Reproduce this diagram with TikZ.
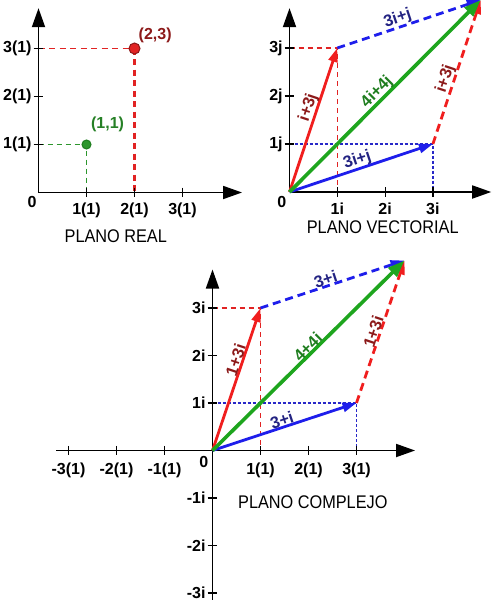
\documentclass[tikz,border=0pt]{standalone}
\usepackage{fontspec}
\setmainfont{Liberation Sans}
\usetikzlibrary{arrows.meta}
\definecolor{vred}{RGB}{240,30,30}
\definecolor{dred}{RGB}{140,25,25}
\definecolor{vblue}{RGB}{30,30,235}
\definecolor{mblue}{RGB}{40,40,200}
\definecolor{dblue}{RGB}{35,35,130}
\definecolor{vgreen}{RGB}{30,165,30}
\definecolor{dgreen}{RGB}{30,125,30}
\definecolor{pred}{RGB}{225,35,35}
\definecolor{pgreen}{RGB}{45,150,45}
\tikzset{
  axisline/.style={line width=1.8pt, -{Triangle[length=19pt,width=13pt]}},
  tickmark/.style={line width=1.2pt},
  ticklab/.style={font=\bfseries\fontsize{16}{16}\selectfont, inner sep=0pt},
  titlelab/.style={font=\fontsize{18.3}{18}\selectfont, inner sep=0pt, xscale=0.89},
  ptlab/.style={font=\bfseries\fontsize{16}{16}\selectfont, inner sep=0pt},
  veclab/.style={font=\bfseries\fontsize{16.5}{16}\selectfont, inner sep=0.6pt, anchor=south},
  vecarrow/.style={line width=2.8pt, -{Triangle[length=14pt,width=9pt]}},
  bigvec/.style={line width=3.6pt, -{Triangle[length=17pt,width=12pt]}},
  thickdash/.style={line width=2.8pt, dash pattern=on 8pt off 5pt, -{Triangle[length=14pt,width=9pt]}},
  thindash/.style={line width=1.3pt, dash pattern=on 5pt off 4pt},
  dotline/.style={line width=1.2pt, dash pattern=on 3pt off 2pt},
}
\begin{document}
\begin{tikzpicture}[x=1pt,y=-1pt]
\useasboundingbox (0,0) rectangle (491,600);

%% ---------------- PLANO REAL ----------------
\begin{scope}[shift={(38.5,192.5)}, x=48pt, y=48pt]
  \coordinate (o1) at (0,0);
  \coordinate (x1e) at (4.24,0);
  \coordinate (y1e) at (0,3.84);
  \coordinate (p11) at (1,1);
  \coordinate (p23) at (2,3);
  \coordinate (p11x) at (1,0);
  \coordinate (p11y) at (0,1);
  \coordinate (p23x) at (2,0);
  \coordinate (p23y) at (0,3);
  \draw[pred, line width=1.6pt, dash pattern=on 6pt off 4.5pt] (p23y) -- (p23);
  \draw[pred, line width=2.6pt, dash pattern=on 6pt off 4.5pt] (p23) -- (p23x);
  \draw[pgreen, thindash] (p11y) -- (p11) -- (p11x);
  \draw[axisline] (o1) -- (x1e);
  \draw[axisline] (o1) -- (y1e);
  \foreach \k in {1,2,3} {
    \draw[tickmark] (\k,0.1) -- (\k,-0.1);
    \draw[tickmark] (-0.1,\k) -- (0.1,\k);
    \node[ticklab] (rx\k) at (\k,-0.37) {\k(1)};
    \node[ticklab, anchor=east] (ry\k) at (-0.14,\k) {\k(1)};
  }
  \node[ticklab] (r0) at (-0.135,-0.2) {0};
  \fill[pred, draw=dred, line width=1pt] (p23) circle[radius=5.5pt];
  \fill[pgreen, draw=dgreen, line width=1pt] (p11) circle[radius=4.5pt];
  \node[ptlab, text=dred] (l23) at (2.43,3.28) {(2,3)};
  \node[ptlab, text=pgreen!85!black] (l11) at (1.44,1.41) {(1,1)};
  \node[titlelab] (t1) at (1.61,-0.92) {PLANO REAL};
\end{scope}

%% ---------------- PLANO VECTORIAL ----------------
\begin{scope}[shift={(289.5,192)}, x=47.8pt, y=48pt]
  \coordinate (o2) at (0,0);
  \coordinate (x2e) at (4.22,0);
  \coordinate (y2e) at (0,3.83);
  \coordinate (a2) at (1,3);
  \coordinate (b2) at (3,1);
  \coordinate (c2) at (4,4);
  \coordinate (a2x) at (1,0);
  \coordinate (a2y) at (0,3);
  \coordinate (b2x) at (3,0);
  \coordinate (b2y) at (0,1);
  \draw[pred, thindash] (a2y) -- (a2) -- (a2x);
  \draw[mblue, dotline] (b2y) -- (b2) -- (b2x);
  \draw[axisline] (o2) -- (x2e);
  \draw[axisline] (o2) -- (y2e);
  \foreach \k in {1,2,3} {
    \draw[tickmark] (\k,0.1) -- (\k,-0.1);
    \draw[tickmark] (-0.1,\k) -- (0.1,\k);
    \node[ticklab] (vx\k) at (\k,-0.34) {\k i};
    \node[ticklab, anchor=east] (vy\k) at (-0.14,\k) {\k j};
  }
  \node[ticklab] (v0) at (-0.16,-0.2) {0};
  \draw[vblue, thickdash] (a2) -- (c2);
  \draw[vred, thickdash] (b2) -- (c2);
  \draw[vred, vecarrow] (o2) -- (a2);
  \draw[vblue, vecarrow] (o2) -- (b2);
  \draw[vgreen, bigvec] (o2) -- (c2);
  \node[veclab, text=dred, rotate=71.6] (va) at (0.567,1.70) {i+3j};
  \node[veclab, text=dgreen, rotate=45] (vc) at (1.955,1.955) {4i+4j};
  \node[veclab, text=dblue, rotate=18.4] (vb) at (1.473,0.491) {3i+j};
  \node[veclab, text=dblue, rotate=18.4] (vbd) at (2.32,3.44) {3i+j};
  \node[veclab, text=dred, rotate=71.6] (vad) at (3.434,2.302) {i+3j};
  \node[titlelab] (t2) at (1.95,-0.74) {PLANO VECTORIAL};
\end{scope}

%% ---------------- PLANO COMPLEJO ----------------
\begin{scope}[shift={(212.5,450.5)}, x=48pt, y=47.5pt]
  \coordinate (o3) at (0,0);
  \coordinate (x3s) at (-3.26,0);
  \coordinate (x3e) at (4.22,0);
  \coordinate (y3s) at (0,-3.2);
  \coordinate (y3e) at (0,3.81);
  \coordinate (a3) at (1,3);
  \coordinate (b3) at (3,1);
  \coordinate (c3) at (4,4);
  \coordinate (a3x) at (1,0);
  \coordinate (a3y) at (0,3);
  \coordinate (b3x) at (3,0);
  \coordinate (b3y) at (0,1);
  \draw[pred, thindash] (a3y) -- (a3) -- (a3x);
  \draw[mblue, dotline] (b3y) -- (b3) -- (b3x);
  \draw[axisline] (x3s) -- (x3e);
  \draw[axisline] (y3s) -- (y3e);
  \foreach \k in {-3,-2,-1,1,2,3} {
    \draw[tickmark] (\k,0.1) -- (\k,-0.1);
    \draw[tickmark] (-0.1,\k) -- (0.1,\k);
    \node[ticklab] (cx\k) at (\k,-0.41) {\k(1)};
    \node[ticklab, anchor=east] (cy\k) at (-0.14,\k) {\k i};
  }
  \node[ticklab] (c0) at (-0.18,-0.24) {0};
  \draw[vblue, thickdash] (a3) -- (c3);
  \draw[vred, thickdash] (b3) -- (c3);
  \draw[vred, vecarrow] (o3) -- (a3);
  \draw[vblue, vecarrow] (o3) -- (b3);
  \draw[vgreen, bigvec] (o3) -- (c3);
  \node[veclab, text=dred, rotate=71.6] (ca) at (0.618,1.855) {1+3i};
  \node[veclab, text=dgreen, rotate=45] (cc) at (2.08,2.08) {4+4i};
  \node[veclab, text=dblue, rotate=18.4] (cb) at (1.49,0.497) {3+i};
  \node[veclab, text=dblue, rotate=18.4] (cbd) at (2.40,3.466) {3+i};
  \node[veclab, text=dred, rotate=71.6] (cad) at (3.486,2.458) {1+3i};
  \node[titlelab] (t3) at (2.09,-1.08) {PLANO COMPLEJO};
\end{scope}
\end{tikzpicture}
\end{document}
